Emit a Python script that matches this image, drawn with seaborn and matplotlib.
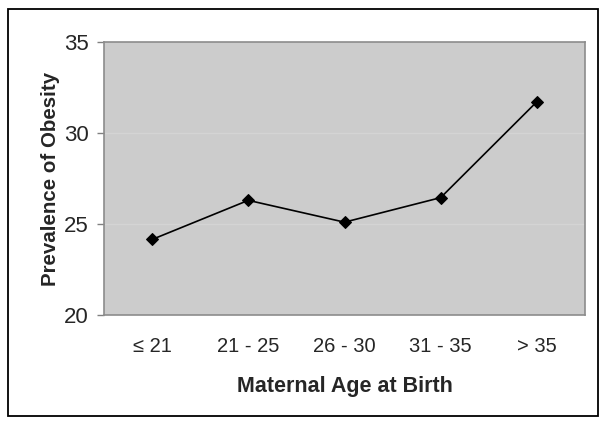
import matplotlib
matplotlib.use("Agg")
import matplotlib.pyplot as plt
from matplotlib.patches import Rectangle
import seaborn as sns
import pandas as pd
import numpy as np

categories = ["\u2264 21", "21 - 25", "26 - 30", "31 - 35", "> 35"]
prevalence = [24.15, 26.3, 25.1, 26.45, 31.72]
yticks = [20, 25, 30, 35]

sns.set_theme(style="white")
plt.rcParams['font.family'] = ['Liberation Sans', 'DejaVu Sans']

df = pd.DataFrame({"age": categories, "prev": prevalence})

W, H = 609, 426
fig = plt.figure(figsize=(W/100, H/100), dpi=100)
ax = fig.add_axes([104/W, 1-315/H, 481/W, 273/H])
ax.set_facecolor("#cccccc")

sns.lineplot(data=df, x="age", y="prev", ax=ax, color="black", marker="D",
             markersize=6.5, linewidth=1.2, sort=False, markeredgecolor="black")

ax.set_xlim(-0.5, len(categories)-0.5)
ax.set_ylim(20, 35)
ax.set_yticks(yticks)
ax.set_yticklabels([str(t) for t in yticks], fontsize=16)
ax.set_xticks(range(len(categories)))
ax.set_xticklabels(categories, fontsize=14.5)
ax.set_xticks(np.arange(-0.5, len(categories)), minor=True)
ax.tick_params(axis="x", which="major", length=0, pad=16)
ax.tick_params(axis="x", which="minor", length=5, color="#808080", width=1)
ax.tick_params(axis="y", which="major", length=5, color="#808080", width=1, pad=6, left=True)
for y in [25, 30]:
    ax.axhline(y, color="#d4d4d4", linewidth=1, zorder=0)

for s in ax.spines.values():
    s.set_color("#8c8c8c")
    s.set_linewidth(1.2)
    s.set_visible(True)

ax.set_xlabel("Maternal Age at Birth", fontsize=15.5, fontweight="bold", labelpad=14)
ax.set_ylabel("Prevalence of Obesity", fontsize=14.8, fontweight="bold", labelpad=3)

fig.patches.append(Rectangle((8/W, 1-416/H), 590/W, 407/H, transform=fig.transFigure,
                             fill=False, edgecolor="black", linewidth=1.3))

fig.savefig("out.png", dpi=100)
